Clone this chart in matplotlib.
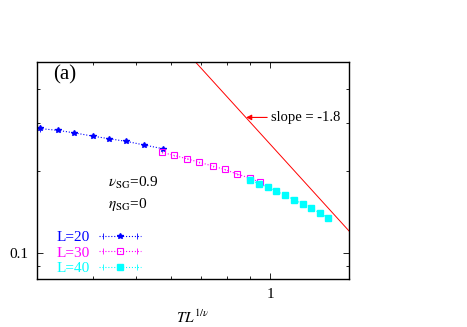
import matplotlib
matplotlib.use("Agg")
import matplotlib.pyplot as plt
from matplotlib.lines import Line2D
from matplotlib.legend_handler import HandlerLine2D, HandlerTuple
import numpy as np

plt.rcParams['font.family'] = ['Liberation Serif', 'DejaVu Serif']
plt.rcParams['mathtext.fontset'] = 'stix'

# data
x20 = [0.304, 0.335, 0.3635, 0.400, 0.436, 0.4755, 0.522, 0.5734]
y20 = [0.286, 0.2814, 0.2757, 0.2682, 0.2622, 0.2566, 0.2488, 0.2412]
e20 = [0.008, 0.002, 0.002, 0.002, 0.002, 0.002, 0.002, 0.002]

x30 = [0.5717, 0.6069, 0.6498, 0.6937, 0.7451, 0.7906, 0.8419, 0.8987, 0.9496]
y30 = [0.2337, 0.2282, 0.2216, 0.2150, 0.2080, 0.2024, 0.1947, 0.1883, 0.1815]
e30 = [0.001] * 9

x40 = [0.8987, 0.9448, 0.9862, 1.0315, 1.0805, 1.128, 1.1813, 1.2358, 1.2898, 1.347]
y40 = [0.1845, 0.1795, 0.1741, 0.1684, 0.1628, 0.1571, 0.1515, 0.1457, 0.1405, 0.1343]
e40 = [0.001] * 10

labels = ['L=20', 'L=30', 'L=40']
slope = -1.8
amp = 0.25

blue = '#0000ff'
mag = '#ff00ff'
cyan = '#00ffff'

fig = plt.figure(figsize=(4.67, 3.27), dpi=100)
ax = fig.add_axes([0.0792, 0.1453, 0.6681, 0.6642])
ax.set_xscale('log')
ax.set_yscale('log')
ax.set_xlim(0.3, 1.5)
ax.set_ylim(0.08, 0.5)

styles = [dict(color=blue, marker='*', ms=4),
          dict(color=mag, marker='s', ms=4, mfc='none', mew=0.8),
          dict(color=cyan, marker='s', ms=4.5)]

for xs_, ys_, es_, st in zip([x20, x30, x40], [y20, y30, y40], [e20, e30, e40], styles):
    ax.errorbar(xs_, ys_, yerr=es_, ls=':', lw=0.8, elinewidth=0.6, capsize=0, **st)

xs = np.array([0.3, 1.5])
ax.plot(xs, amp * xs ** slope, color='red', lw=0.7)

ax.annotate('slope = -1.8', xy=(0.882, 0.314), xytext=(1.005, 0.314),
            va='center', ha='left', fontsize=10.5,
            arrowprops=dict(arrowstyle='-|>', color='red', lw=0.8,
                            mutation_scale=8, shrinkA=1, shrinkB=0))

ax.text(0.051, 0.94, '(a)', transform=ax.transAxes, fontsize=15, va='center')
ax.text(0.228, 0.444, r'$\nu_{\rm SG}$=0.9', transform=ax.transAxes, fontsize=11, va='center')
ax.text(0.228, 0.343, r'$\eta_{\rm SG}$=0', transform=ax.transAxes, fontsize=11, va='center')

# legend samples: dotted line, marker in the middle, small caps at both ends
handles = []
hmap = {}
for st in styles:
    main = Line2D([], [], ls=':', lw=0.8, **st)
    caps = Line2D([], [], ls='none', color=st['color'], marker='|', ms=4, mew=0.6)
    hmap[main] = HandlerLine2D(numpoints=1)
    hmap[caps] = HandlerLine2D(numpoints=2)
    handles.append((caps, main))
hmap[tuple] = HandlerTuple(ndivide=1, pad=0)

leg = ax.legend(handles=handles, labels=labels, handler_map=hmap,
                loc='lower left', bbox_to_anchor=(0.027, -0.03),
                frameon=False, markerfirst=False, fontsize=11, handlelength=2.8,
                handletextpad=0.6, labelspacing=0.12, borderpad=0.2)
for t, c in zip(leg.get_texts(), [blue, mag, cyan]):
    t.set_color(c)

ax.set_xticks([1])
ax.set_xticklabels(['1'])
ax.set_yticks([0.1])
ax.set_yticklabels(['0.1'])
ax.xaxis.set_minor_locator(matplotlib.ticker.LogLocator(subs=np.arange(2, 10)))
ax.yaxis.set_minor_locator(matplotlib.ticker.LogLocator(subs=np.arange(2, 10)))
ax.xaxis.set_minor_formatter(matplotlib.ticker.NullFormatter())
ax.yaxis.set_minor_formatter(matplotlib.ticker.NullFormatter())
ax.tick_params(which='both', direction='in', top=True, right=True, labelsize=11, width=0.6)
ax.tick_params(which='major', length=4.5, pad=6)
ax.tick_params(which='minor', length=2.5)
for s in ax.spines.values():
    s.set_linewidth(1.0)

ax.set_xlabel(r'$TL^{1/\nu}$', fontsize=11, labelpad=6)

fig.savefig('out.png', dpi=100)
